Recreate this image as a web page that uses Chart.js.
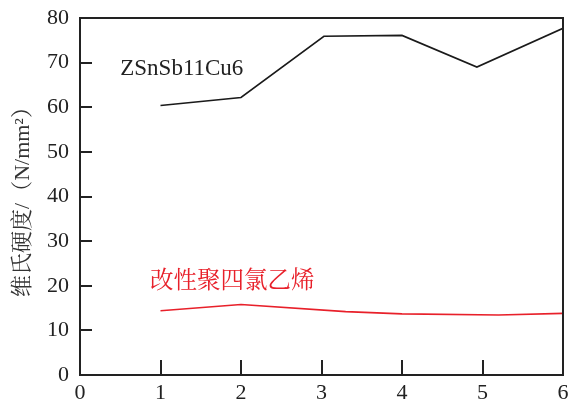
<!DOCTYPE html>
<html><head><meta charset="utf-8">
<script src="https://cdn.jsdelivr.net/npm/chart.js@4"></script>
<style>html,body{margin:0;padding:0;background:#fff}#w{width:568px;height:404px}</style>
</head><body><div id="w"><canvas id="c"></canvas></div>
<script>
const alloyX = [1, 2, 3.03, 4, 4.93, 6];
const alloyY = [60.4, 62.2, 75.9, 76.1, 69.0, 77.7];
const ptfeX = [1, 2, 3.3, 4, 5.2, 6];
const ptfeY = [14.4, 15.8, 14.2, 13.7, 13.45, 13.8];
const xTicks = [0, 1, 2, 3, 4, 5, 6];
const yTicks = [0, 10, 20, 30, 40, 50, 60, 70, 80];
const labels = [
  {text: 'ZSnSb11Cu6', x: 0.5, y: 68.5, color: '#222', size: 23},
  {text: '改性聚四氯乙烯', x: 0.87, y: 20.9, color: '#e8202a', size: 23.5}
];
const serif = '"Liberation Serif", "Noto Serif CJK SC", "Noto Sans CJK SC", serif';

const frame = {
  id: 'frame',
  afterDatasetsDraw(chart) {
    const {ctx, chartArea: a, scales: {x, y}} = chart;
    ctx.save();
    ctx.strokeStyle = '#222';
    ctx.lineWidth = 2;
    ctx.strokeRect(a.left, a.top, a.right - a.left, a.bottom - a.top);
    ctx.beginPath();
    yTicks.slice(1, -1).forEach(v => {
      const py = Math.round(y.getPixelForValue(v));
      ctx.moveTo(a.left, py); ctx.lineTo(a.left + 12, py);
    });
    xTicks.slice(1, -1).forEach(v => {
      const px = Math.round(x.getPixelForValue(v));
      ctx.moveTo(px, a.bottom); ctx.lineTo(px, a.bottom - 15);
    });
    ctx.stroke();
    labels.forEach(l => {
      ctx.fillStyle = l.color;
      ctx.font = l.size + 'px ' + serif;
      ctx.textBaseline = 'middle';
      ctx.textAlign = 'left';
      ctx.fillText(l.text, x.getPixelForValue(l.x), y.getPixelForValue(l.y));
    });
    ctx.restore();
  }
};

new Chart(document.getElementById('c'), {
  type: 'line',
  data: {
    datasets: [
      {data: alloyX.map((v, i) => ({x: v, y: alloyY[i]})), borderColor: '#1a1a1a', borderWidth: 1.6, pointRadius: 0, tension: 0},
      {data: ptfeX.map((v, i) => ({x: v, y: ptfeY[i]})), borderColor: '#e8202a', borderWidth: 1.6, pointRadius: 0, tension: 0}
    ]
  },
  options: {
    responsive: true, maintainAspectRatio: false, animation: false,
    layout: {padding: {top: 18, right: 5, left: 0, bottom: 0}},
    plugins: {legend: {display: false}, tooltip: {enabled: false}},
    scales: {
      x: {
        type: 'linear', min: 0, max: 6,
        afterBuildTicks: s => { s.ticks = xTicks.map(v => ({value: v})); },
        grid: {display: false, drawTicks: false},
        border: {display: false},
        ticks: {color: '#222', font: {family: serif, size: 22}, padding: 5, maxRotation: 0},
        afterFit: s => { s.height = 29; s.paddingLeft = 0; s.paddingRight = 0; }
      },
      y: {
        min: 0, max: 80,
        afterBuildTicks: s => { s.ticks = yTicks.map(v => ({value: v})); },
        grid: {display: false, drawTicks: false},
        border: {display: false},
        ticks: {color: '#222', font: {family: serif, size: 22}, padding: 11},
        title: {display: true, text: '维氏硬度/（N/mm²）', color: '#333', font: {family: serif, size: 22}, padding: {top: 10, bottom: 4}},
        afterFit: s => { s.width = 80; s.paddingTop = 0; s.paddingBottom = 0; }
      }
    }
  },
  plugins: [frame]
});
</script>
</body></html>
